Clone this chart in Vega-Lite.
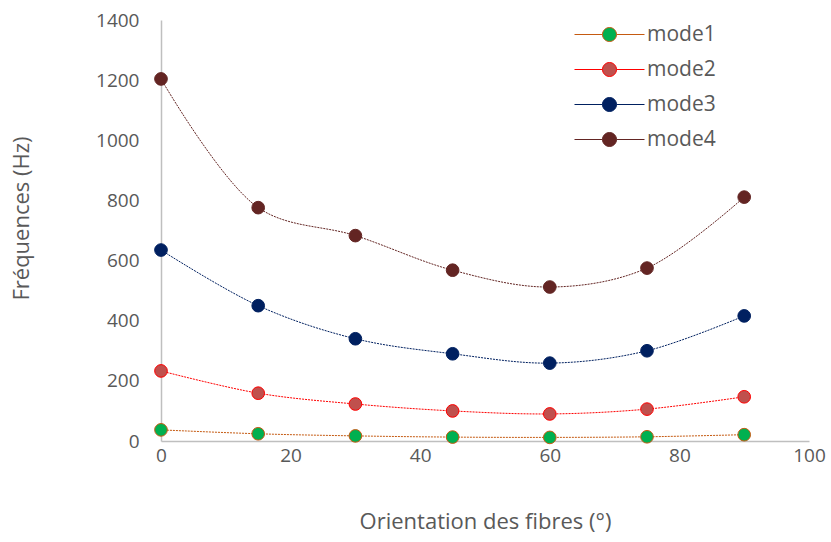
{
  "$schema": "https://vega.github.io/schema/vega-lite/v6.json",
  "width": 648,
  "height": 421,
  "autosize": "none",
  "padding": {"left": 161, "top": 20, "right": 22, "bottom": 101},
  "background": "white",
  "config": {
    "view": {"stroke": null},
    "font": "Open Sans",
    "axis": {"grid": false, "ticks": false, "domainColor": "#bfbfbf", "domainWidth": 1.5, "labelColor": "#595959", "titleColor": "#595959", "labelFont": "Open Sans", "titleFont": "Open Sans", "labelFontSize": 19, "titleFontSize": 22, "titleFontWeight": "normal", "labelFlush": false, "format": "d"}
  },
  "data": {"values": [
    {"angle": 0, "mode": "mode1", "freq": 37},
    {"angle": 15, "mode": "mode1", "freq": 24},
    {"angle": 30, "mode": "mode1", "freq": 17},
    {"angle": 45, "mode": "mode1", "freq": 13},
    {"angle": 60, "mode": "mode1", "freq": 12},
    {"angle": 75, "mode": "mode1", "freq": 14},
    {"angle": 90, "mode": "mode1", "freq": 21},
    {"angle": 0, "mode": "mode2", "freq": 233},
    {"angle": 15, "mode": "mode2", "freq": 159},
    {"angle": 30, "mode": "mode2", "freq": 123},
    {"angle": 45, "mode": "mode2", "freq": 100},
    {"angle": 60, "mode": "mode2", "freq": 90},
    {"angle": 75, "mode": "mode2", "freq": 106},
    {"angle": 90, "mode": "mode2", "freq": 147},
    {"angle": 0, "mode": "mode3", "freq": 635},
    {"angle": 15, "mode": "mode3", "freq": 450},
    {"angle": 30, "mode": "mode3", "freq": 340},
    {"angle": 45, "mode": "mode3", "freq": 290},
    {"angle": 60, "mode": "mode3", "freq": 259},
    {"angle": 75, "mode": "mode3", "freq": 300},
    {"angle": 90, "mode": "mode3", "freq": 416},
    {"angle": 0, "mode": "mode4", "freq": 1204},
    {"angle": 15, "mode": "mode4", "freq": 776},
    {"angle": 30, "mode": "mode4", "freq": 683},
    {"angle": 45, "mode": "mode4", "freq": 568},
    {"angle": 60, "mode": "mode4", "freq": 512},
    {"angle": 75, "mode": "mode4", "freq": 575},
    {"angle": 90, "mode": "mode4", "freq": 811}
  ]},
  "encoding": {
    "x": {"field": "angle", "type": "quantitative", "scale": {"domain": [0, 100], "nice": false}, "axis": {"values": [0, 20, 40, 60, 80, 100], "labelPadding": 5, "format": "d", "title": "Orientation des fibres (°)", "titlePadding": 46}},
    "y": {"field": "freq", "type": "quantitative", "scale": {"domain": [0, 1400], "nice": false}, "axis": {"values": [0, 200, 400, 600, 800, 1000, 1200, 1400], "labelPadding": 22, "format": "d", "title": "Fréquences (Hz)", "titlePadding": 62, "titleY": 198}},
    "stroke": {"field": "mode", "type": "nominal", "scale": {"domain": ["mode1", "mode2", "mode3", "mode4"], "range": ["#C55A11", "#FF0000", "#002060", "#632523"]},
      "legend": {"title": null, "orient": "none", "legendX": 438, "legendY": 4, "symbolType": "M-5,0L-1,0M1,0L5,0M-1,0A1,1,0,1,1,1,0A1,1,0,1,1,-1,0Z", "symbolSize": 196, "symbolStrokeWidth": 1, "labelFontSize": 21, "labelColor": "#595959", "labelFont": "Open Sans", "labelOffset": 27, "rowPadding": 13}}
  },
  "layer": [
    {"mark": {"type": "line", "interpolate": "catmull-rom", "strokeWidth": 1, "strokeDash": [2, 1]}},
    {"mark": {"type": "point", "filled": true, "size": 160, "opacity": 1, "strokeWidth": 1},
     "encoding": {
       "fill": {"field": "mode", "type": "nominal", "scale": {"domain": ["mode1", "mode2", "mode3", "mode4"], "range": ["#00B050", "#C0504D", "#002060", "#632523"]}, "legend": {"title": null}},
       "stroke": {"field": "mode", "type": "nominal"}
     }}
  ]
}
